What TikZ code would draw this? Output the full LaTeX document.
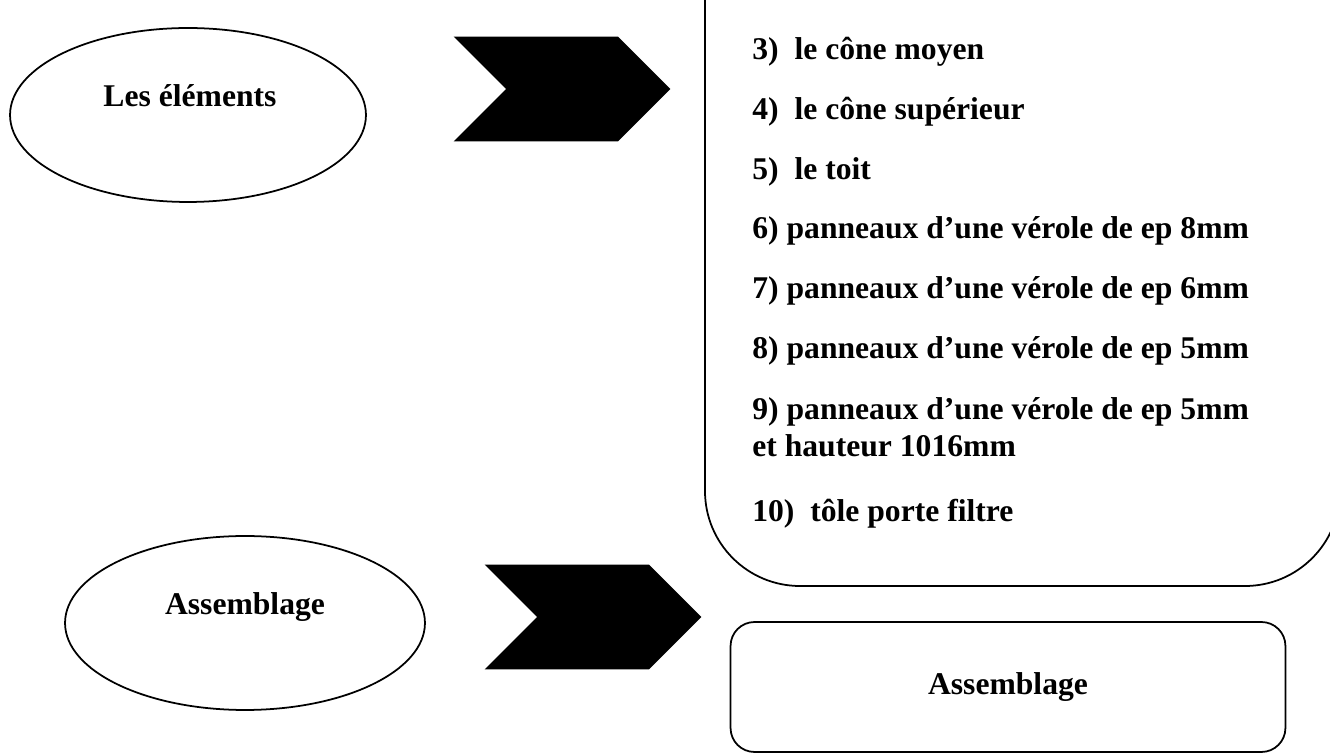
\documentclass[tikz,border=0pt]{standalone}
\usepackage{fontspec}
\setmainfont{Liberation Serif}
\usetikzlibrary{positioning,shapes.geometric,shapes.symbols}

\begin{document}
\begin{tikzpicture}[
  x=0.02cm, y=-0.02cm,
  lbl/.style={font=\bfseries\fontsize{18}{22}\selectfont, inner sep=0pt},
  oval/.style={draw, ellipse, line width=1pt, minimum width=#1, minimum height=3.48cm},
  oval/.default=7.12cm,
  chev/.style={signal, signal from=west, signal to=east, fill=black, draw=none,
               inner sep=0pt, minimum width=4.34cm, minimum height=2.1cm},
  item/.style={lbl, anchor=base west},
  panel/.style={draw, line width=1pt, rounded corners=#1},
  panel/.default=0.48cm]
\useasboundingbox (0,0) rectangle (1330,756);
\clip (0,0) rectangle (1330,756);
% left column
\node[oval] (elem) at (188,115) {};
\node[lbl, anchor=base] (elemtxt) at (190,107) {Les éléments};
\node[oval=7.2cm] (assem) at (245,623) {};
\node[lbl, anchor=base] (assemtxt) at (245,615) {Assemblage};
% arrows
\node[chev] (arr1) at (562,89) {};
\node[chev] (arr2) at (593,617) {};
% list of parts
\draw[panel=1.9cm] (705,-100) -- (705,586) -- (1340,586) -- (1340,-100);
\node[item] (i3) at (752,60) {3)\ \ le cône moyen};
\node[item] (i4) at (752,120) {4)\ \ le cône supérieur};
\node[item] (i5) at (752,180) {5)\ \ le toit};
\node[item] (i6) at (752,239) {6) panneaux d’une vérole de ep 8mm};
\node[item] (i7) at (752,299) {7) panneaux d’une vérole de ep 6mm};
\node[item] (i8) at (752,359) {8) panneaux d’une vérole de ep 5mm};
\node[item] (i9) at (752,420) {9) panneaux d’une vérole de ep 5mm};
\node[item] (i9b) at (752,457) {et hauteur 1016mm};
\node[item] (i10) at (752,522) {10)\ \ tôle porte filtre};
% result
\node[panel, lbl, minimum width=11.1cm, minimum height=2.6cm] (fin) at (1008,687) {Assemblage};
\end{tikzpicture}
\end{document}
